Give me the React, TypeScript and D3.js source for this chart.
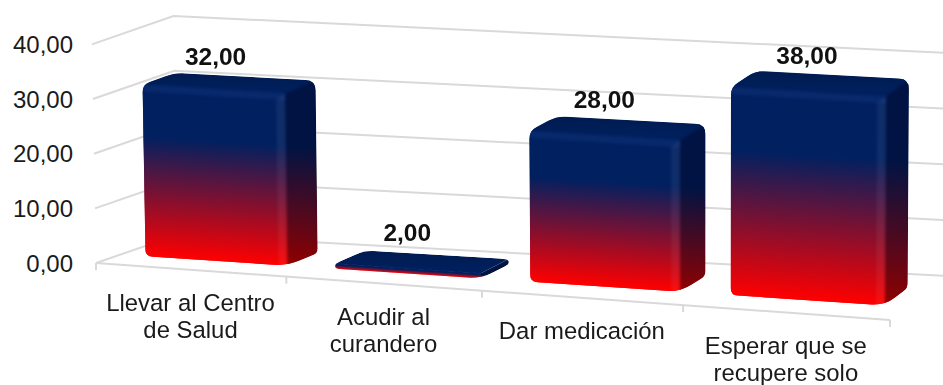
import React from "react";
import * as d3 from "d3";

const categories = [
  ["Llevar al Centro", "de Salud"],
  ["Acudir al", "curandero"],
  ["Dar medicación"],
  ["Esperar que se", "recupere solo"],
];
const values = [32, 2, 28, 38];
const axisTicks = [0, 10, 20, 30, 40];

const WIDTH = 943;
const HEIGHT = 385;
const FONT = "'Liberation Sans', Arial, sans-serif";
const GRID = "#d9d9d9";
const fmt = (v: number) => v.toFixed(2).replace(".", ",");

// Floor corners of the 3D box on screen (front/back, left/right).
const frontX = d3.scaleLinear().domain([0, 1]).range([96, 890]);
const frontY = d3.scaleLinear().domain([0, 1]).range([263, 320]);
const backX = d3.scaleLinear().domain([0, 1]).range([177, 946]);
const backY = d3.scaleLinear().domain([0, 1]).range([235, 276]);
const unitHeight = d3.scaleLinear().domain([177, 943]).range([5.475, 5.575]);

// Categories widen slightly to the right because of the perspective.
const warp = (t: number) => (t * 0.946) / (1 - t + t * 0.946);

function project(u: number, depth: number, v: number): [number, number] {
  const t = warp(u / categories.length);
  const x0 = frontX(t) + (backX(t) - frontX(t)) * depth;
  const y0 = frontY(t) + (backY(t) - frontY(t)) * depth;
  return [x0 + (x0 - 700) * 0.00017 * v, y0 - v * unitHeight(x0)];
}

const band = d3
  .scaleBand<number>()
  .domain(d3.range(categories.length))
  .range([0.01, categories.length + 0.02])
  .paddingInner(0.25)
  .paddingOuter(0.125);

const DEPTH_FRONT = 0.3;
const DEPTH_BACK = 0.7;

// The bevelled cap eats a little of each column's nominal height.
const columnHeight = d3.scaleLinear().domain([0, 38]).range([-1.05, 37.5]);

type Pt = [number, number];

// Closed path through the points with corners rounded by quadratic curves.
function rounded(points: Pt[], radii: number[]): string {
  const n = points.length;
  const parts: string[] = [];
  points.forEach((p, i) => {
    const a = points[(i + n - 1) % n];
    const b = points[(i + 1) % n];
    const la = Math.hypot(a[0] - p[0], a[1] - p[1]);
    const lb = Math.hypot(b[0] - p[0], b[1] - p[1]);
    const ra = Math.min(radii[i], la * 0.45);
    const rb = Math.min(radii[i], lb * 0.45);
    const s: Pt = [p[0] + ((a[0] - p[0]) * ra) / la, p[1] + ((a[1] - p[1]) * ra) / la];
    const e: Pt = [p[0] + ((b[0] - p[0]) * rb) / lb, p[1] + ((b[1] - p[1]) * rb) / lb];
    parts.push(`${i === 0 ? "M" : "L"}${s[0]},${s[1]}Q${p[0]},${p[1]} ${e[0]},${e[1]}`);
  });
  return parts.join("") + "Z";
}

const poly = (pts: Pt[]) => "M" + pts.map((p) => p.join(",")).join("L") + "Z";

function Bar({ index }: { index: number }) {
  const v = columnHeight(values[index]);
  const u0 = band(index)!;
  const u1 = u0 + band.bandwidth();
  const fl = project(u0, DEPTH_FRONT, 0);
  const fr = project(u1, DEPTH_FRONT, 0);
  const br = project(u1, DEPTH_BACK, 0);
  const tfl = project(u0, DEPTH_FRONT, v);
  const tfr = project(u1, DEPTH_FRONT, v);
  const tbr = project(u1, DEPTH_BACK, v);
  const tbl = project(u0, DEPTH_BACK, v);

  // Gradient bands run parallel to the bar's sloping front edge.
  const slope = (fr[1] - fl[1]) / (fr[0] - fl[0]);
  const height = fl[1] - tfl[1];
  const k = height / (1 + slope * slope);
  const gx1 = tfl[0];
  const gy1 = tfl[1];
  const gx2 = gx1 - slope * k;
  const gy2 = gy1 + k;
  const grad = { gradientUnits: "userSpaceOnUse", x1: gx1, y1: gy1, x2: gx2, y2: gy2 } as const;

  const outline: Pt[] = [fl, fr, br, tbr, tbl, tfl];
  const clipId = `bar-clip-${index}`;
  const strip = Math.min(height * 0.3, 7);
  const bevelX = 9;
  const innerTopL: Pt = [tfl[0], tfl[1] + strip];
  const innerTopR: Pt = [tfr[0] - bevelX, tfr[1] + strip - bevelX * slope];

  const faces = (
    <>
      <path d={poly([tfl, tfr, fr, fl])} fill={`url(#front-${index})`} stroke={`url(#front-${index})`} />
      <path d={poly([tfr, tbr, br, fr])} fill={`url(#side-${index})`} />
      <path d={poly([tbl, tbr, tfr, tfl])} fill={`url(#top-${index})`} />
    </>
  );

  return (
    <g>
      <defs>
        <linearGradient id={`front-${index}`} {...grad}>
          <stop offset="0" stopColor="#002060" />
          <stop offset="0.3" stopColor="#002060" />
          <stop offset="1" stopColor="#ff0000" />
        </linearGradient>
        <linearGradient id={`side-${index}`} {...grad}>
          <stop offset="0" stopColor="#001343" />
          <stop offset="0.3" stopColor="#001343" />
          <stop offset="1" stopColor="#900000" />
        </linearGradient>
        <linearGradient id={`top-${index}`} x1="0" y1="0" x2="0" y2="1">
          <stop offset="0" stopColor="#001b50" />
          <stop offset="1" stopColor="#00205f" />
        </linearGradient>
        <clipPath id={clipId}>
          <path d={rounded(outline, [7, 14, 5, 10, 10, 8])} />
        </clipPath>
      </defs>
      <g clipPath={`url(#${clipId})`}>
        {faces}
        {/* The same faces softened on top, so the seams between them melt like a bevel */}
        {height > 30 && <g filter="url(#seam-blur)">{faces}</g>}
        {height > 30 && (
          <g filter="url(#bevel-blur)">
            <path d={poly([tfl, tfr, [tfr[0], tfr[1] + strip], innerTopL])} fill="#1c3f8c" opacity={0.3} />
            <path
              d={poly([innerTopR, [tfr[0], tfr[1]], fr, [fr[0] - bevelX, fr[1] - bevelX * slope]])}
              fill="#ffffff"
              opacity={0.06}
            />
          </g>
        )}
      </g>
    </g>
  );
}

export default function App() {
  const ticksU = d3.range(categories.length + 1);
  return (
    <svg
      width={WIDTH}
      height={HEIGHT}
      viewBox={`0 0 ${WIDTH} ${HEIGHT}`}
      style={{ position: "absolute", left: 0, top: 0, background: "#ffffff", fontFamily: FONT }}
    >
      <defs>
        <filter id="bevel-blur" x="-20%" y="-20%" width="140%" height="140%" colorInterpolationFilters="sRGB">
          <feGaussianBlur stdDeviation="1.6" />
        </filter>
        <filter id="seam-blur" x="-5%" y="-5%" width="110%" height="110%" colorInterpolationFilters="sRGB">
          <feGaussianBlur stdDeviation="1.8" />
        </filter>
      </defs>

      {/* Value gridlines running along the side wall and the back wall */}
      {axisTicks.map((t) => {
        const a = project(0, 0, t);
        const b = project(0, 1, t);
        const c = project(categories.length, 1, t);
        return (
          <g key={t}>
            <polyline
              points={[a, b, c].map((p) => p.join(",")).join(" ")}
              fill="none"
              stroke={GRID}
              strokeWidth={2}
            />
            <text x={73} y={a[1] + 8.5} textAnchor="end" fontSize={24} fill="#1a1a1a">
              {fmt(t)}
            </text>
          </g>
        );
      })}

      {/* Front floor edge with its category ticks */}
      <line
        x1={project(0, 0, 0)[0]}
        y1={project(0, 0, 0)[1]}
        x2={project(categories.length, 0, 0)[0]}
        y2={project(categories.length, 0, 0)[1]}
        stroke={GRID}
        strokeWidth={2}
      />
      {ticksU.map((u) => {
        const p = project(u, 0, 0);
        return <line key={u} x1={p[0]} y1={p[1]} x2={p[0]} y2={p[1] + 7} stroke={GRID} strokeWidth={2} />;
      })}

      {values.map((_, i) => (
        <Bar key={i} index={i} />
      ))}

      {/* Values above the bars */}
      {values.map((v, i) => {
        const center = band(i)! + band.bandwidth() / 2;
        const x = project(center, DEPTH_FRONT, 0)[0] - 0.5;
        const y = project(center, DEPTH_BACK, v)[1] - 8.5;
        return (
          <text key={i} x={x} y={y} textAnchor="middle" fontSize={24.5} fontWeight={700} fill="#111111">
            {fmt(v)}
          </text>
        );
      })}

      {/* Category labels under the floor edge */}
      {categories.map((lines, i) => {
        const p = project(i + 0.5, 0, 0);
        return (
          <text key={i} textAnchor="middle" fontSize={23.9} fill="#1a1a1a">
            {lines.map((line, j) => (
              <tspan key={j} x={p[0]} y={p[1] + 41.5 + j * 26.5}>
                {line}
              </tspan>
            ))}
          </text>
        );
      })}
    </svg>
  );
}
